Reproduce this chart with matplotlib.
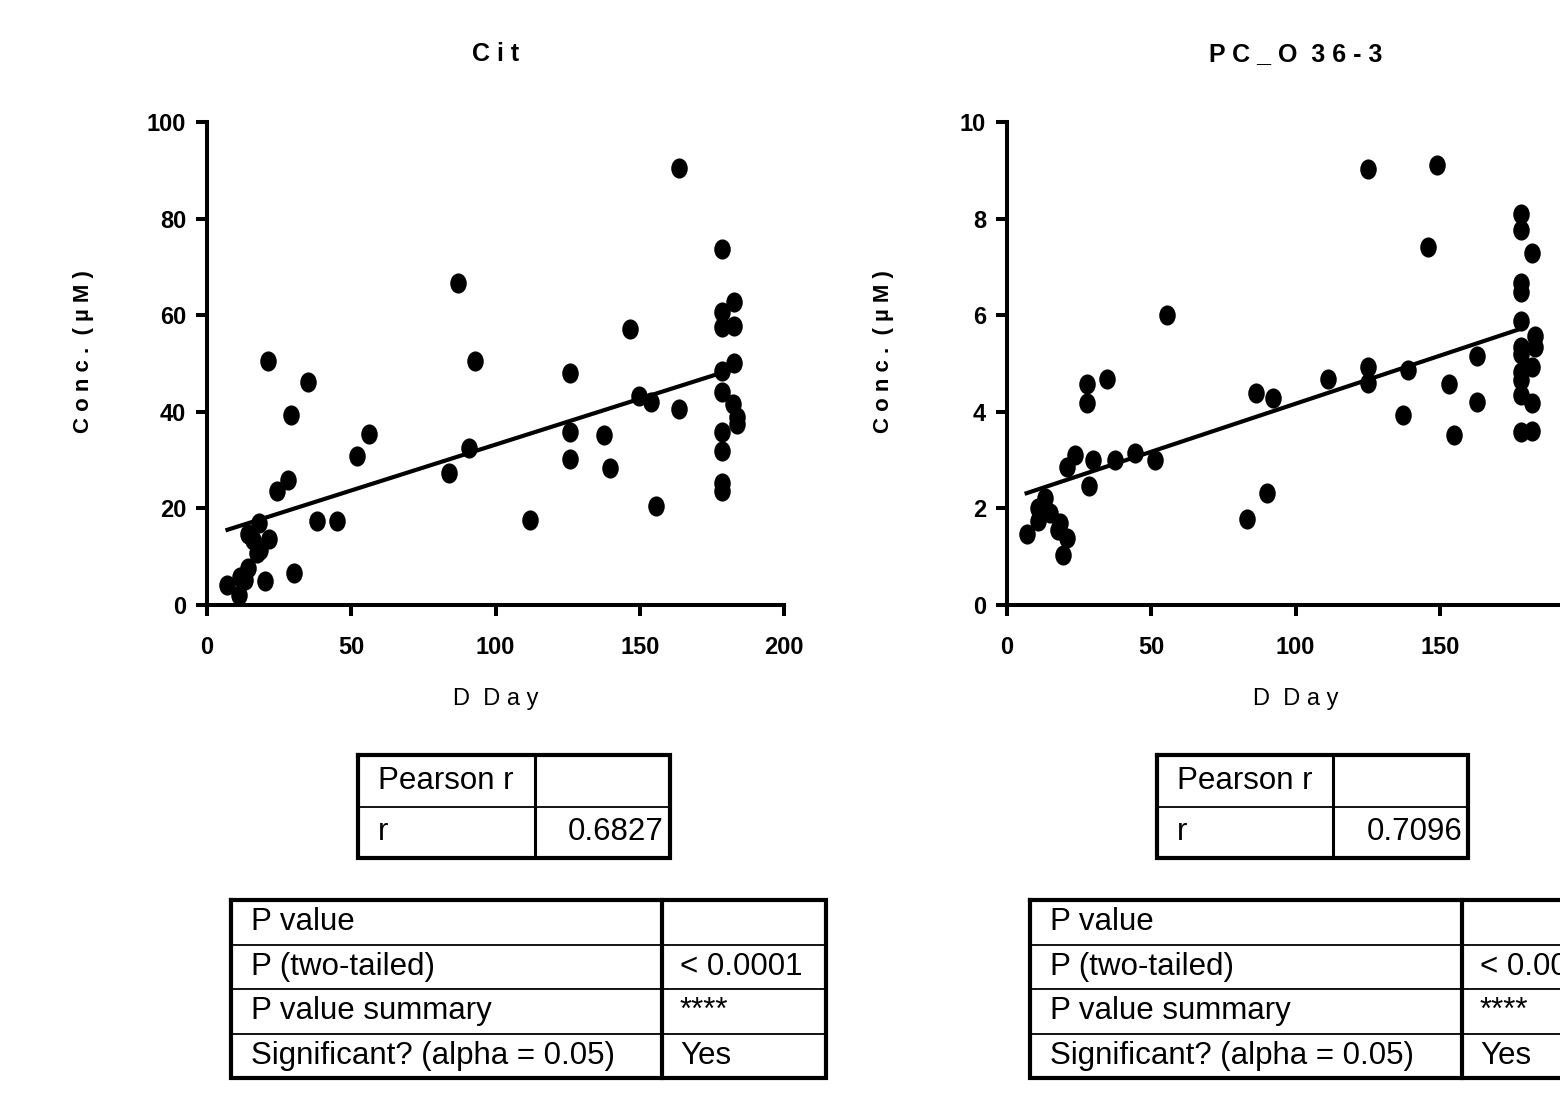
import numpy as np
from matplotlib import pyplot as plt
from matplotlib.path import Path

black = '#000000'

# Cit panel
cit_day = [86.9, 21.1, 92.9, 35.1, 29.1, 56.2, 52.0, 90.9, 83.8, 28.2, 24.1, 38.1, 45.1,
           18.1, 14.3, 21.5, 16.0, 18.4, 17.2, 14.3, 11.4, 13.2, 7.1, 11.2, 20.2, 30.2,
           163.6, 178.5, 182.7, 178.4, 178.4, 182.8, 146.6, 125.7, 182.7, 178.4, 149.9,
           153.8, 163.6, 178.4, 182.4, 183.6, 183.6, 125.7, 137.7, 178.4, 125.7, 139.7,
           178.4, 178.4, 178.4, 155.6, 111.9]
cit_conc = [66.6, 50.5, 50.6, 46.2, 39.3, 35.4, 30.8, 32.6, 27.3, 25.9, 23.5, 17.3, 17.3,
            16.9, 14.8, 13.7, 13.4, 11.4, 10.7, 7.6, 5.9, 5.2, 4.1, 2.1, 5.0, 6.6,
            90.4, 73.7, 62.8, 60.7, 57.6, 57.8, 57.1, 48.0, 50.0, 48.5, 43.3,
            42.0, 40.5, 44.2, 41.7, 39.0, 37.5, 35.9, 35.1, 35.9, 30.3, 28.3,
            31.8, 25.2, 23.5, 20.5, 17.7]
cit_fit_range = [7.1, 178.4]

# PC_O 36-3 panel
pc_day = [55.5, 34.6, 27.6, 27.6, 86.3, 92.3, 23.7, 20.7, 29.7, 37.5, 44.4, 51.4, 28.5,
          90.2, 83.3, 13.2, 10.9, 12.0, 10.9, 6.8, 14.9, 18.4, 17.8, 20.7, 19.5,
          125.1, 148.9, 146.0, 178.0, 178.0, 182.1, 178.0, 178.0, 178.0, 183.0, 183.0,
          178.0, 178.0, 182.1, 178.0, 178.0, 178.0, 182.1, 178.0, 182.1, 111.4, 125.1,
          125.1, 139.1, 163.0, 153.1, 163.0, 137.2, 155.0]
pc_conc = [6.0, 4.68, 4.58, 4.18, 4.38, 4.29, 3.11, 2.86, 3.0, 3.0, 3.14, 3.0, 2.47,
           2.31, 1.79, 2.21, 2.0, 1.9, 1.73, 1.48, 1.9, 1.69, 1.55, 1.38, 1.04,
           9.03, 9.12, 7.42, 8.1, 7.76, 7.29, 6.66, 6.49, 5.87, 5.56, 5.35,
           5.35, 5.2, 4.93, 4.83, 4.66, 4.35, 4.18, 3.59, 3.6, 4.68, 4.93,
           4.59, 4.87, 5.16, 4.57, 4.21, 3.93, 3.51]
pc_fit_range = [6.8, 178.0]

titles = ['C i t', 'P C _ O  3 6 - 3']
x_ticks = [0, 50, 100, 150, 200]
cit_yticks = [0, 20, 40, 60, 80, 100]
pc_yticks = [0, 2, 4, 6, 8, 10]

pearson_rows = [['Pearson r', ''], ['r', '0.6827']]
pearson_rows2 = [['Pearson r', ''], ['r', '0.7096']]
pvalue_rows = [['P value', ''],
               ['P (two-tailed)', '< 0.0001'],
               ['P value summary', '****'],
               ['Significant? (alpha = 0.05)', 'Yes']]

tick_font = ['Liberation Sans', 'DejaVu Sans']
table_font = ['Liberation Sans Narrow', 'Liberation Sans', 'DejaVu Sans']

# slightly tall ellipse marker, as in the original
circ = Path.unit_circle()
oval = Path(circ.vertices * np.array([0.82, 1.0]), circ.codes)

W, H = 1560, 1107
fig = plt.figure(figsize=(W / 100, H / 100), dpi=100)


def scatter_panel(left_px, xdata, ydata, fit_range, ymax, yticks, title):
    ax = fig.add_axes([left_px / W, 1 - 605 / H, 577 / W, 483 / H])
    ax.plot(xdata, ydata, linestyle='None', marker=oval, markersize=14.5,
            color=black, markeredgewidth=0, clip_on=False, zorder=3)
    slope, icpt = np.polyfit(xdata, ydata, 1)
    xl = np.array(fit_range)
    ax.plot(xl, slope * xl + icpt, color=black, linewidth=3.0, zorder=2)
    ax.set_xlim(0, 200)
    ax.set_ylim(0, ymax)
    for sp in ['top', 'right']:
        ax.spines[sp].set_visible(False)
    for sp in ['left', 'bottom']:
        ax.spines[sp].set_linewidth(2.9)
    ax.tick_params(width=2.9, length=8, direction='out')
    ax.tick_params(axis='x', pad=14)
    ax.tick_params(axis='y', pad=7)
    ax.set_xticks(x_ticks)
    ax.set_xticklabels([str(t) for t in x_ticks], fontsize=17,
                       fontweight='bold', family=tick_font)
    ax.set_yticks(yticks)
    ax.set_yticklabels([str(t) for t in yticks], fontsize=17,
                       fontweight='bold', family=tick_font)
    ax.set_xlabel('D  D a y', fontsize=17, family=tick_font, labelpad=21)
    ax.set_ylabel('C o n c .  ( µ M )', fontsize=16,
                  fontweight='bold', family=tick_font)
    ax.yaxis.set_label_coords(-0.196, 0.525)
    ax.set_title(title, fontsize=18, fontweight='bold',
                 family=tick_font, pad=44)
    return ax


scatter_panel(207, cit_day, cit_conc, cit_fit_range, 100, cit_yticks, titles[0])
scatter_panel(1007, pc_day, pc_conc, pc_fit_range, 10, pc_yticks, titles[1])

# overlay in pixel coordinates for the result tables
ov = fig.add_axes([0, 0, 1, 1])
ov.set_xlim(0, W)
ov.set_ylim(H, 0)
ov.axis('off')


def draw_table(x0, y0, col_w, row_h, rows, vlw, right_align):
    x1 = x0 + col_w[0]
    x2 = x1 + col_w[1]
    y1 = y0 + row_h * len(rows)
    for i in range(1, len(rows)):
        yy = y0 + i * row_h
        ov.plot([x0, x2], [yy, yy], color=black, linewidth=1.3)
    ov.plot([x1, x1], [y0, y1], color=black, linewidth=vlw)
    ov.plot([x0, x2, x2, x0, x0], [y0, y0, y1, y1, y0], color=black,
            linewidth=3.0, solid_joinstyle='miter')
    for i, (a, b) in enumerate(rows):
        yc = y0 + (i + 0.5) * row_h
        ov.text(x0 + 20, yc, a, fontsize=22.5, family=table_font, va='center', ha='left')
        if right_align:
            ov.text(x2 - 6, yc, b, fontsize=22.5, family=table_font, va='center', ha='right')
        else:
            ov.text(x1 + 18, yc, b, fontsize=22.5, family=table_font, va='center', ha='left')


draw_table(358, 755, [177, 135], 51.5, pearson_rows, 2.2, True)
draw_table(231, 900, [431, 164], 44.5, pvalue_rows, 3.0, False)
draw_table(1157, 755, [176, 135], 51.5, pearson_rows2, 2.2, True)
draw_table(1030, 900, [432, 164], 44.5, pvalue_rows, 3.0, False)

plt.savefig('out.png', dpi=100)
